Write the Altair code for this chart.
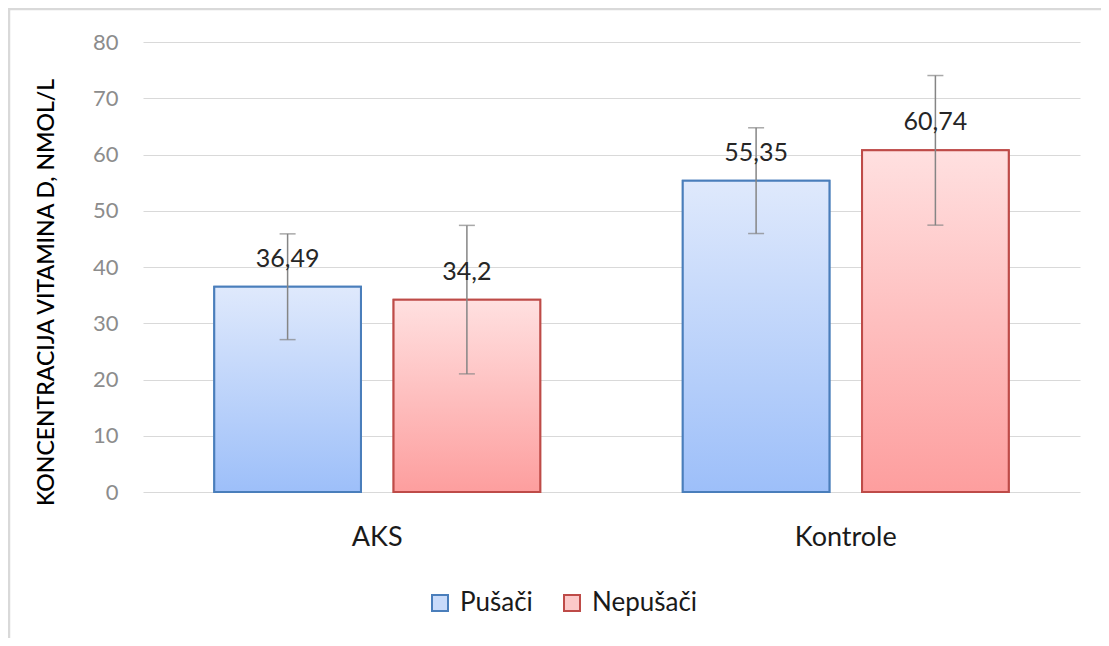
import altair as alt
import pandas as pd

categories = ["AKS", "Kontrole"]
series = ["Pušači", "Nepušači"]
pusaci_values = [36.49, 55.35]
nepusaci_values = [34.2, 60.74]
pusaci_err = [9.4, 9.4]
nepusaci_err = [13.2, 13.3]
y_ticks = [0, 10, 20, 30, 40, 50, 60, 70, 80]

rows = []
for s, vals, errs in [(series[0], pusaci_values, pusaci_err), (series[1], nepusaci_values, nepusaci_err)]:
    for c, v, e in zip(categories, vals, errs):
        rows.append({
            "Group": c, "Series": s, "Value": v,
            "lo": v - e, "hi": v + e,
            "Label": (("%g" % v)).replace(".", ","),
        })
df = pd.DataFrame(rows)

FONT = "Lato"
x_enc = alt.X("Group:N", sort=categories, title=None,
              scale=alt.Scale(paddingInner=0, paddingOuter=0),
              axis=alt.Axis(labelAngle=0, labelFontSize=27, labelColor="#1a1a1a",
                            labelPadding=32, labelFont=FONT, labelBaseline="top"))
xo_enc = alt.XOffset("Series:N", sort=series,
                     scale=alt.Scale(domain=series, paddingInner=0.182, paddingOuter=0.3975))
y_enc = alt.Y("Value:Q", title="KONCENTRACIJA VITAMINA D, NMOL/L",
              scale=alt.Scale(domain=[0, 80], nice=False),
              axis=alt.Axis(values=y_ticks, labelFontSize=22, labelColor="#8c8c8c", labelFont=FONT,
                            labelPadding=25, gridColor="#d9d9d9", gridWidth=1.2,
                            titleFont="Liberation Sans Narrow, Lato", titleFontSize=23,
                            titleFontWeight=500, titleColor="#000000", titleAngle=-90,
                            titleX=-97, titleY=250, titleAlign="center", titleBaseline="middle"))

base = alt.Chart(df)

legend_props = dict(title=None, orient="none", direction="horizontal",
                    legendX=284, legendY=548, symbolType="square",
                    symbolSize=256, symbolStrokeWidth=2,
                    labelFontSize=26, labelFont=FONT, labelColor="#1a1a1a",
                    labelOffset=7, columnPadding=26, padding=0)

legend_bars = base.mark_bar(strokeWidth=2).encode(
    x=x_enc, xOffset=xo_enc, y=y_enc,
    fill=alt.Fill("Series:N", sort=series,
                  scale=alt.Scale(domain=series, range=["#c9dbfa", "#fcc9c9"]),
                  legend=alt.Legend(**legend_props)),
    stroke=alt.Stroke("Series:N", sort=series,
                      scale=alt.Scale(domain=series, range=["#4a7ebb", "#be4b48"]),
                      legend=alt.Legend(**legend_props)),
)

blue_grad = alt.Gradient(gradient="linear", x1=0, x2=0, y1=0, y2=1,
                         stops=[alt.GradientStop(color="#dfe9fc", offset=0),
                                alt.GradientStop(color="#9dbff9", offset=1)])
red_grad = alt.Gradient(gradient="linear", x1=0, x2=0, y1=0, y2=1,
                        stops=[alt.GradientStop(color="#ffe0e0", offset=0),
                               alt.GradientStop(color="#fd9e9e", offset=1)])

blue_bars = base.transform_filter(alt.datum.Series == series[0]).mark_bar(
    fill=blue_grad, stroke="#4a7ebb", strokeWidth=2).encode(x=x_enc, xOffset=xo_enc, y=y_enc)
red_bars = base.transform_filter(alt.datum.Series == series[1]).mark_bar(
    fill=red_grad, stroke="#be4b48", strokeWidth=2).encode(x=x_enc, xOffset=xo_enc, y=y_enc)

err_rule = base.mark_rule(color="#858585", strokeWidth=1.5).encode(
    x=x_enc, xOffset=xo_enc, y="lo:Q", y2="hi:Q")
cap_lo = base.mark_tick(color="#858585", size=16, thickness=1.5, orient="horizontal").encode(
    x=x_enc, xOffset=xo_enc, y="lo:Q")
cap_hi = base.mark_tick(color="#858585", size=16, thickness=1.5, orient="horizontal").encode(
    x=x_enc, xOffset=xo_enc, y="hi:Q")

labels = base.mark_text(dy=-20, baseline="alphabetic", fontSize=25, font=FONT, color="#262626").encode(
    x=x_enc, xOffset=xo_enc, y=y_enc, text="Label:N")

border = alt.Chart(alt.Data(values=[{}])).mark_rect(
    fill=None, stroke="#d9d9d9", strokeWidth=2.5).encode(
    x=alt.value(-134), x2=alt.value(1200), y=alt.value(-33), y2=alt.value(800))

chart = alt.layer(border, legend_bars, blue_bars, red_bars, err_rule, cap_lo, cap_hi, labels).properties(
    width=937, height=450,
    autosize=alt.AutoSizeParams(type="none"),
    padding={"left": 135, "top": 34, "right": 21, "bottom": 146},
).configure_view(stroke=None).configure_axis(domain=False, ticks=False).configure_axisX(grid=False)

chart.save("out.html", embed_options={"renderer": "svg", "actions": False})
